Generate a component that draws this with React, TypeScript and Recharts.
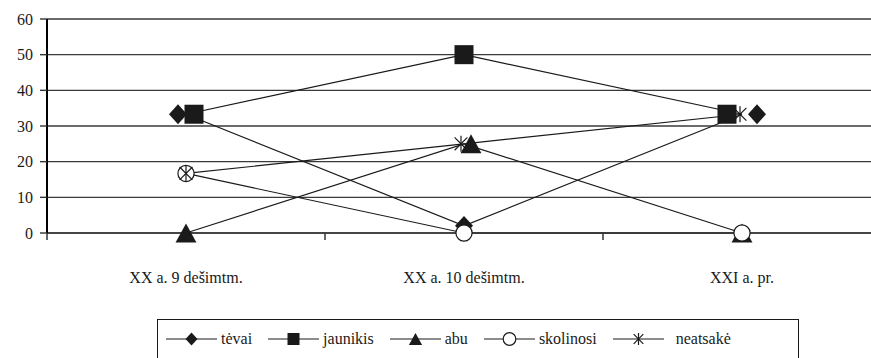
import { LineChart, Line, XAxis, YAxis, CartesianGrid } from 'recharts';

// values (percent)
const categories = ['XX a. 9 dešimtm.', 'XX a. 10 dešimtm.', 'XXI a. pr.'];
const tevai = [33.3, 2, 33.3];
const jaunikis = [33.3, 50, 33.3];
const abu = [0, 25, 0];
const skolinosi = [16.7, 0, 0];
const neatsake = [16.7, 25, 33.3];
const yTicks = [0, 10, 20, 30, 40, 50, 60];

const seriesNames = ['tėvai', 'jaunikis', 'abu', 'skolinosi', 'neatsakė'];
const seriesKeys = ['tevai', 'jaunikis', 'abu', 'skolinosi', 'neatsake'];

const data = categories.map((name, i) => ({
  name,
  tevai: tevai[i],
  jaunikis: jaunikis[i],
  abu: abu[i],
  skolinosi: skolinosi[i],
  neatsake: neatsake[i],
}));

const FONT = "'Liberation Serif', 'Times New Roman', serif";
const INK = '#1a1a1a';

type Kind = 'diamond' | 'square' | 'triangle' | 'circle' | 'star';
const kinds: Kind[] = ['diamond', 'square', 'triangle', 'circle', 'star'];

// the original draws overlapping markers slightly apart so they stay visible
const markerNudge: Record<Kind, number[]> = {
  diamond: [-8, 0, 15],
  square: [8, 0, -15],
  triangle: [0, 7, 0],
  circle: [0, 0, 0],
  star: [0, -3, -2],
};

function Marker({ kind, cx, cy, s }: { kind: Kind; cx: number; cy: number; s: number }) {
  switch (kind) {
    case 'diamond':
      return (
        <polygon
          points={`${cx},${cy - s * 1.1} ${cx + s},${cy} ${cx},${cy + s * 1.1} ${cx - s},${cy}`}
          fill={INK}
        />
      );
    case 'square':
      return <rect x={cx - s} y={cy - s} width={s * 2} height={s * 2} fill={INK} />;
    case 'triangle':
      return (
        <polygon
          points={`${cx},${cy - s} ${cx + s * 1.1},${cy + s} ${cx - s * 1.1},${cy + s}`}
          fill={INK}
        />
      );
    case 'circle':
      return <circle cx={cx} cy={cy} r={s * 0.9} fill="#fff" stroke={INK} strokeWidth={1.2} />;
    case 'star':
      return (
        <g stroke={INK} strokeWidth={1.2}>
          <line x1={cx} y1={cy - s} x2={cx} y2={cy + s} />
          <line x1={cx - s * 0.8} y1={cy - s * 0.8} x2={cx + s * 0.8} y2={cy + s * 0.8} />
          <line x1={cx - s * 0.8} y1={cy + s * 0.8} x2={cx + s * 0.8} y2={cy - s * 0.8} />
        </g>
      );
  }
}

const markerSize: Record<Kind, number> = {
  diamond: 9,
  square: 9.5,
  triangle: 9.5,
  circle: 9,
  star: 8,
};

function makeDot(kind: Kind) {
  return (props: any) => {
    const { cx, cy, index } = props;
    if (cx == null || cy == null) return <g key={index} />;
    const dx = markerNudge[kind][index] ?? 0;
    return (
      <g key={`${kind}-${index}`}>
        <Marker kind={kind} cx={cx + dx} cy={cy} s={markerSize[kind]} />
      </g>
    );
  };
}

function CategoryTick(props: any) {
  const { x, y, payload, width, visibleTicksCount, index } = props;
  const band = width / (visibleTicksCount || categories.length);
  return (
    <g>
      <line x1={x - band / 2} y1={y} x2={x - band / 2} y2={y + 7} stroke="#333" strokeWidth={1.5} />
      {index === visibleTicksCount - 1 && (
        <line x1={x + band / 2} y1={y} x2={x + band / 2} y2={y + 7} stroke="#333" strokeWidth={1.5} />
      )}
      <text x={x} y={y + 50} textAnchor="middle" fill={INK} fontSize={16} style={{ fontFamily: FONT }}>
        {payload.value}
      </text>
    </g>
  );
}

function ValueTick(props: any) {
  const { x, y, payload } = props;
  return (
    <text x={x} y={y} dy="0.36em" textAnchor="end" fill={INK} fontSize={16} style={{ fontFamily: FONT }}>
      {payload.value}
    </text>
  );
}

function LegendBox() {
  return (
    <div
      style={{
        position: 'absolute',
        left: 157,
        top: 319,
        width: 642,
        height: 50,
        border: `1.5px solid ${INK}`,
        boxSizing: 'border-box',
        display: 'flex',
        alignItems: 'flex-start',
        paddingLeft: 8,
        paddingTop: 9,
        gap: 16,
        color: INK,
      }}
    >
      {seriesNames.map((n, i) => (
        <div key={n} style={{ display: 'flex', alignItems: 'center', gap: i === 4 ? 12 : 4 }}>
          <svg width={51} height={20}>
            <line x1={0} y1={10} x2={51} y2={10} stroke={INK} strokeWidth={1.2} />
            <Marker kind={kinds[i]} cx={25.5} cy={10} s={kinds[i] === 'circle' ? 7 : 6} />
          </svg>
          <span style={{ lineHeight: '20px', fontFamily: FONT, fontSize: 16 }}>{n}</span>
        </div>
      ))}
    </div>
  );
}

export default function App() {
  return (
    <div
      style={{
        position: 'absolute',
        left: 0,
        top: 0,
        width: 871,
        height: 358,
        overflow: 'hidden',
        background: '#fff',
        fontFamily: FONT,
      }}
    >
      <LineChart
        width={881}
        height={358}
        data={data}
        margin={{ top: 19, right: 0, bottom: 0, left: 0 }}
        style={{ fontFamily: FONT }}
      >
        <CartesianGrid vertical={false} stroke="#3a3a3a" strokeWidth={1.4} />
        <XAxis
          dataKey="name"
          scale="band"
          axisLine={{ stroke: '#3a3a3a', strokeWidth: 1.4 }}
          tickLine={false}
          tickSize={0}
          tickMargin={0}
          height={125}
          interval={0}
          tick={<CategoryTick />}
        />
        <YAxis
          domain={[0, 60]}
          ticks={yTicks}
          width={47}
          axisLine={{ stroke: '#000', strokeWidth: 2 }}
          tickLine={{ stroke: '#333', strokeWidth: 1.4 }}
          tickSize={7}
          tickMargin={7}
          tick={<ValueTick />}
        />
        {seriesKeys.map((k, i) => (
          <Line
            key={k}
            dataKey={k}
            name={seriesNames[i]}
            stroke={INK}
            strokeWidth={1.2}
            type="linear"
            dot={makeDot(kinds[i])}
            activeDot={false}
            isAnimationActive={false}
          />
        ))}
      </LineChart>
      <LegendBox />
    </div>
  );
}
